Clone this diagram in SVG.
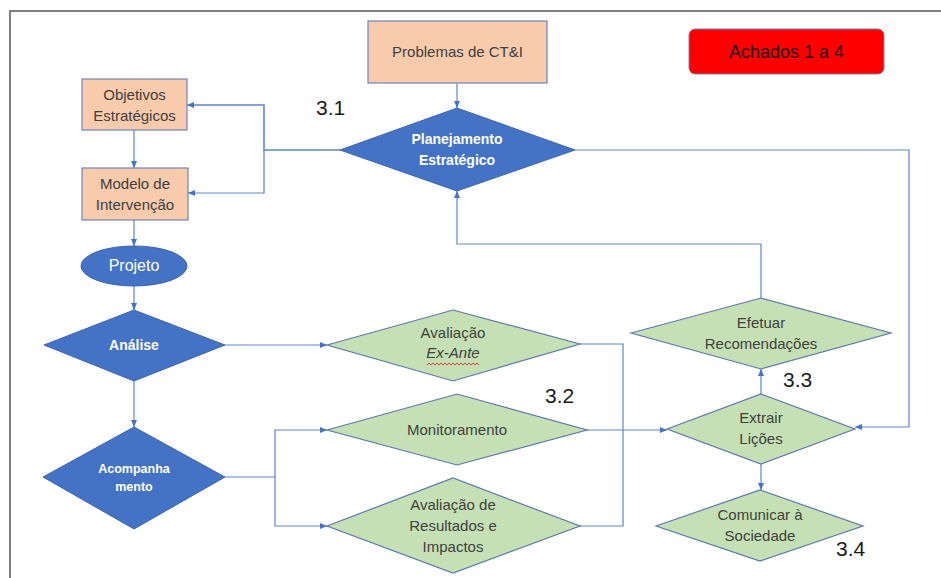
<svg xmlns="http://www.w3.org/2000/svg" width="941" height="578" viewBox="0 0 941 578">
<style>
.t{font-family:"Liberation Sans",Arial,sans-serif;text-anchor:middle}
.dk{fill:#404040;font-size:15px}
.wh{fill:#ffffff;font-size:14px;font-weight:bold}
.lbl{fill:#1a1a1a;font-size:21px;font-family:"Liberation Sans",Arial,sans-serif}
.peach{fill:#f8cbad;stroke:#6c86b8;stroke-width:1.2}
.blue{fill:#4472c4;stroke:#3d66b0;stroke-width:1}
.green{fill:#c5e0b4;stroke:#5a79ad;stroke-width:1.2}
.c{fill:none;stroke:#5b85d0;stroke-width:1.2}
</style>
<defs>
<marker id="ah" markerUnits="userSpaceOnUse" markerWidth="8" markerHeight="8" viewBox="0 0 8 8" refX="7" refY="4" orient="auto">
<path d="M0,1 L7,4 L0,7 z" fill="#4472c4"/>
</marker>
</defs>
<rect x="0" y="0" width="941" height="578" fill="#ffffff"/>
<rect x="10" y="11" width="940" height="580" fill="none" stroke="#808080" stroke-width="2"/>

<g id="connectors">
<path class="c" d="M457,83 V108" marker-end="url(#ah)"/>
<path class="c" d="M340,150 H264 V105 H187" marker-end="url(#ah)" style="stroke-width:1.6"/>
<path class="c" d="M264,150 V193 H188" marker-end="url(#ah)"/>
<path class="c" d="M134,130 V168" marker-end="url(#ah)"/>
<path class="c" d="M134,220 V246" marker-end="url(#ah)"/>
<path class="c" d="M134,286 V310" marker-end="url(#ah)"/>
<path class="c" d="M134,381 V427" marker-end="url(#ah)"/>
<path class="c" d="M225,345 H327" marker-end="url(#ah)"/>
<path class="c" d="M225,477 H275 V430 H327" marker-end="url(#ah)"/>
<path class="c" d="M275,477 V526 H327" marker-end="url(#ah)"/>
<path class="c" d="M580,344 H623 V526 H580"/>
<path class="c" d="M587,430 H667" marker-end="url(#ah)"/>
<path class="c" d="M761,394 V369" marker-end="url(#ah)"/>
<path class="c" d="M761,298 V244 H457 V191" marker-end="url(#ah)"/>
<path class="c" d="M575,150 H909 V427 H855" marker-end="url(#ah)"/>
<path class="c" d="M761,464 V490" marker-end="url(#ah)"/>
</g>

<g id="problemas">
<rect class="peach" x="368" y="21" width="179" height="62"/>
<text class="t dk" x="457.5" y="57">Problemas de CT&amp;I</text>
</g>
<g id="achados">
<rect x="689" y="29" width="195" height="45" rx="6" fill="#ff0000" stroke="#6c86b8" stroke-width="1"/>
<text class="t" x="786.5" y="58" style="font-size:18px;fill:#1a0000">Achados 1 a 4</text>
</g>
<g id="objetivos">
<rect class="peach" x="82" y="79" width="105" height="51"/>
<text class="t dk" x="134.5" y="100">Objetivos</text>
<text class="t dk" x="134.5" y="121">Estratégicos</text>
</g>
<g id="modelo">
<rect class="peach" x="82" y="168" width="106" height="52"/>
<text class="t dk" x="135" y="189">Modelo de</text>
<text class="t dk" x="135" y="210">Intervenção</text>
</g>
<g id="projeto">
<ellipse class="blue" cx="134" cy="266" rx="53" ry="20"/>
<text class="t" x="134" y="271" style="fill:#fff;font-size:16px">Projeto</text>
</g>
<g id="planejamento">
<polygon class="blue" points="340,150 457,108 575,150 457,191"/>
<text class="t wh" x="457" y="144">Planejamento</text>
<text class="t wh" x="457" y="165">Estratégico</text>
</g>
<g id="analise">
<polygon class="blue" points="44,345 134,310 225,345 134,381"/>
<text class="t wh" x="134" y="350">Análise</text>
</g>
<g id="acompanhamento">
<polygon class="blue" points="43,477 134,427 225,477 134,529"/>
<text class="t wh" x="134" y="473" style="font-size:12.5px">Acompanha</text>
<text class="t wh" x="134" y="491" style="font-size:12.5px">mento</text>
</g>
<g id="exante">
<polygon class="green" points="327,345 453,310 580,344 453,381"/>
<text class="t dk" x="453" y="338">Avaliação</text>
<text class="t dk" x="453" y="358" style="font-style:italic">Ex-Ante</text>
<path d="M427,365 l2,-2 l2,2 l2,-2 l2,2 l2,-2 l2,2 l2,-2 l2,2 l2,-2 l2,2 l2,-2 l2,2 l2,-2 l2,2 l2,-2 l2,2 l2,-2 l2,2 l2,-2 l2,2 l2,-2 l2,2 l2,-2 l2,2 l2,-2 l2,2" fill="none" stroke="#e03030" stroke-width="0.9"/>
</g>
<g id="monitoramento">
<polygon class="green" points="327,430 457,394 587,430 457,465"/>
<text class="t dk" x="457" y="435">Monitoramento</text>
</g>
<g id="resultados">
<polygon class="green" points="327,526 453,478 580,526 453,573"/>
<text class="t dk" x="453" y="510">Avaliação de</text>
<text class="t dk" x="453" y="531">Resultados e</text>
<text class="t dk" x="453" y="552">Impactos</text>
</g>
<g id="efetuar">
<polygon class="green" points="631,333 761,298 891,333 761,369"/>
<text class="t dk" x="761" y="328">Efetuar</text>
<text class="t dk" x="761" y="349">Recomendações</text>
</g>
<g id="extrair">
<polygon class="green" points="667,429 761,394 855,429 761,464"/>
<text class="t dk" x="761" y="423">Extrair</text>
<text class="t dk" x="761" y="444">Lições</text>
</g>
<g id="comunicar">
<polygon class="green" points="656,526 760,490 863,526 760,561"/>
<text class="t dk" x="760" y="520">Comunicar à</text>
<text class="t dk" x="760" y="541">Sociedade</text>
</g>
<g id="labels">
<text class="lbl" x="316" y="115">3.1</text>
<text class="lbl" x="545" y="403">3.2</text>
<text class="lbl" x="783" y="387">3.3</text>
<text class="lbl" x="836" y="556">3.4</text>
</g>
</svg>
